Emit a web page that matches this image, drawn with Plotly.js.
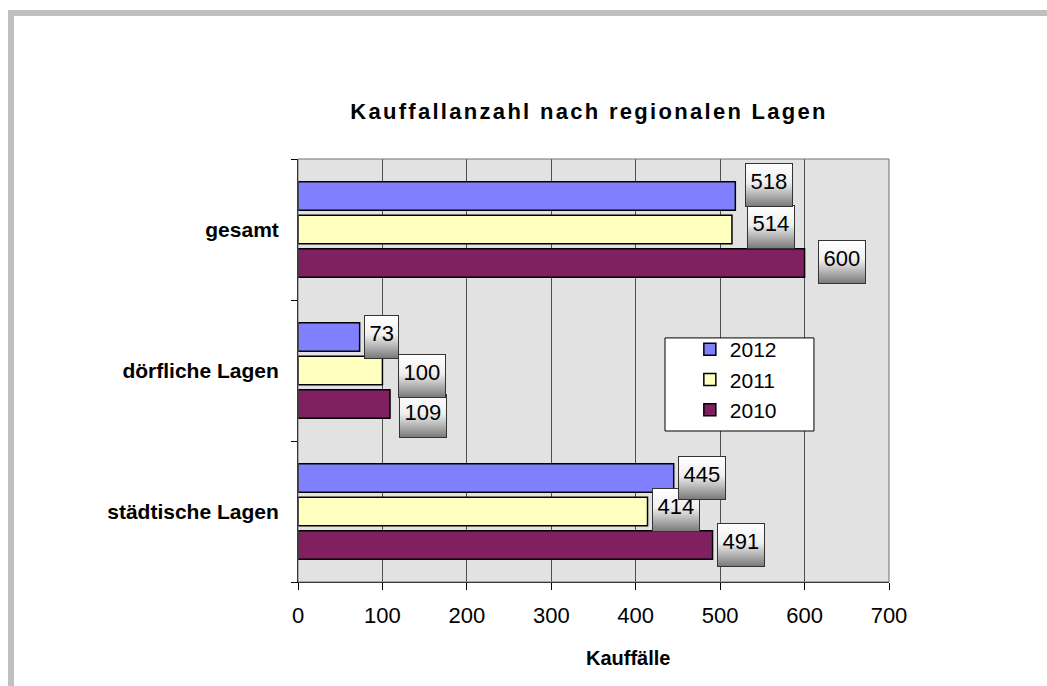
<!DOCTYPE html>
<html><head><meta charset="utf-8">
<script src="https://cdn.plot.ly/plotly-3.0.1.min.js"></script>
<style>
html,body{margin:0;padding:0;background:#fff;}
#chart{position:absolute;left:0;top:0;width:1047px;height:686px;}
#frame{position:absolute;left:8px;top:10px;right:0;bottom:0;border-left:6px solid #c0c0c0;border-top:6px solid #c0c0c0;pointer-events:none;z-index:10;}
.gtitle{letter-spacing:2.3px;}
</style></head><body>
<div id="chart"></div><div id="frame"></div>
<script>
// ---- data ----
const categories = ['städtische Lagen', 'dörfliche Lagen', 'gesamt'];
const seriesNames = ['2010', '2011', '2012'];
const values2010 = [491, 109, 600];
const values2011 = [414, 100, 514];
const values2012 = [445, 73, 518];
const xTickValues = [0, 100, 200, 300, 400, 500, 600, 700];
const chartTitle = 'Kauffallanzahl nach regionalen Lagen';
const xTitle = 'Kauffälle';

// ---- styles ----
const colors = ['#802060', '#FFFFC0', '#8080FF'];
const FONT = '"Liberation Sans", Arial, Helvetica, sans-serif';
const BARGAP = 0.287;
// label nudges (px) so the label boxes do not overlap, as in the original
const nudgeX = [[0, 5, 9], [0, 12, 11], [0, 0, 6]];
const nudgeY = [[0, -12, 1.5], [1.5, -5, 2.5], [0, 0, 11]];

const seriesValues = [values2010, values2011, values2012];

const traces = seriesValues.map((vals, i) => ({
  type: 'bar', orientation: 'h',
  name: seriesNames[i], x: vals, y: categories,
  marker: {color: colors[i], line: {color: '#000', width: 1.5}},
  hoverinfo: 'skip'
}));

const slot = (1 - BARGAP) / seriesValues.length;
const annotations = [];
seriesValues.forEach((vals, i) => {
  vals.forEach((v, j) => {
    annotations.push({
      x: v, y: j + (i - (seriesValues.length - 1) / 2) * slot,
      xref: 'x', yref: 'y', text: String(v), showarrow: false,
      xanchor: 'left', yanchor: 'middle',
      xshift: 4 + nudgeX[i][j], yshift: nudgeY[i][j],
      font: {family: FONT, size: 22, color: '#000'},
      bgcolor: '#c8c8c8', bordercolor: '#333', borderwidth: 1, borderpad: 4.5,
      height: 33, valign: 'top'
    });
  });
});
const nLabels = annotations.length;
annotations.push({
  text: xTitle, xref: 'paper', yref: 'paper', x: 0.558, y: -0.18,
  xanchor: 'center', yanchor: 'middle', showarrow: false,
  font: {family: FONT, size: 20, color: '#000', weight: 700}
});

const layout = {
  width: 1047, height: 686,
  margin: {l: 298, r: 158, t: 159, b: 104},
  paper_bgcolor: '#fff', plot_bgcolor: '#e2e2e2',
  font: {family: FONT, color: '#000'},
  title: {text: chartTitle, x: 0.5626, xanchor: 'center', y: 0.838, yanchor: 'middle',
          font: {family: FONT, size: 22, color: '#000', weight: 700}},
  barmode: 'group', bargap: BARGAP, bargroupgap: 0.15,
  hovermode: false,
  xaxis: {
    range: [0, 700], tickvals: xTickValues, ticktext: xTickValues.map(String),
    showgrid: true, gridcolor: '#505050', gridwidth: 1, zeroline: false,
    ticks: 'outside', ticklen: 7, tickcolor: '#000',
    showline: true, linecolor: '#000', linewidth: 1,
    tickfont: {family: FONT, size: 22, color: '#000'}, ticklabelstandoff: 7
  },
  yaxis: {
    type: 'category', categoryorder: 'array', categoryarray: categories,
    range: [-0.5, 2.5], tickson: 'boundaries', ticks: 'outside', ticklen: 6, tickcolor: '#000',
    showline: true, linecolor: '#000', linewidth: 1, showgrid: false, zeroline: false,
    tickfont: {family: FONT, size: 21, color: '#000', weight: 700}, ticklabelstandoff: 14
  },
  legend: {
    x: 0.663, y: 0.598, xanchor: 'left', yanchor: 'top', traceorder: 'reversed',
    bgcolor: 'rgba(0,0,0,0)', borderwidth: 0,
    font: {family: FONT, size: 21, color: '#000'}
  },
  shapes: [
    {type: 'rect', xref: 'paper', yref: 'paper', x0: 0, x1: 1, y0: 0, y1: 1,
     line: {color: '#707070', width: 1}, layer: 'above'},
    {type: 'rect', xref: 'paper', yref: 'paper', x0: 0.621, x1: 0.873, y0: 0.357, y1: 0.577,
     fillcolor: '#fff', line: {color: '#000', width: 1}, layer: 'above'}
  ],
  annotations: annotations
};

Plotly.newPlot('chart', traces, layout, {staticPlot: true, displayModeBar: false}).then(gd => {
  const NS = 'http://www.w3.org/2000/svg';
  const defs = gd.querySelector('.main-svg defs');
  const grad = document.createElementNS(NS, 'linearGradient');
  grad.setAttribute('id', 'lblgrad');
  grad.setAttribute('x1', '0'); grad.setAttribute('y1', '0');
  grad.setAttribute('x2', '0'); grad.setAttribute('y2', '1');
  [['0', '#ffffff'], ['0.45', '#efefef'], ['1', '#787878']].forEach(([o, c]) => {
    const s = document.createElementNS(NS, 'stop');
    s.setAttribute('offset', o); s.setAttribute('stop-color', c);
    grad.appendChild(s);
  });
  defs.appendChild(grad);
  gd.querySelectorAll('.annotation').forEach(g => {
    const idx = +g.getAttribute('data-index');
    if (idx < nLabels) {
      const r = g.querySelector('rect.bg');
      if (r) r.style.fill = 'url(#lblgrad)';
    }
  });
});
</script>
</body></html>
